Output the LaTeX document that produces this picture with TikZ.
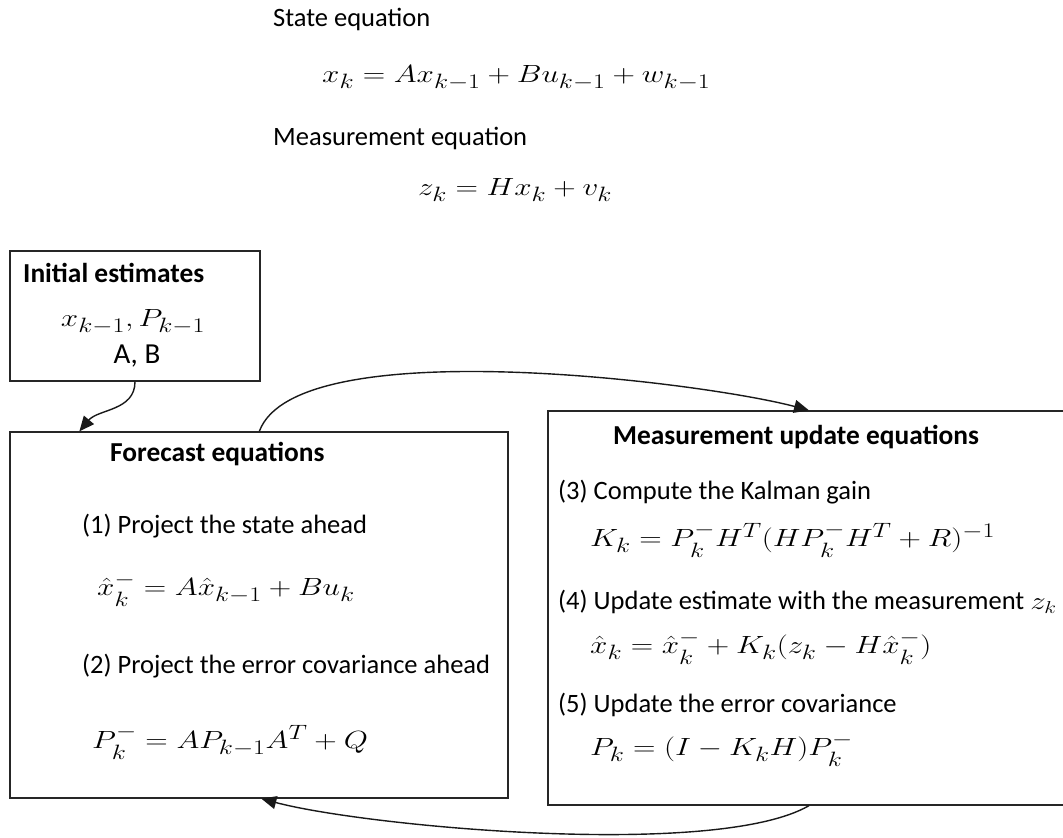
\documentclass[tikz,border=0pt]{standalone}
\usepackage{amsmath,amssymb}
\usepackage{graphicx}
\usepackage{fontspec}
\setmainfont{Carlito}
\usetikzlibrary{positioning,arrows.meta,calc}
\usepackage{xcolor}
\newcommand{\wmath}[1]{\scalebox{1.25}[1]{$#1$}}

\begin{document}
\begin{tikzpicture}[x=1pt,y=-1pt,>={Triangle[length=15pt,width=13pt]},
  txt/.style={anchor=west,inner sep=0pt,font=\fontsize{26.5}{30}\selectfont},
  head/.style={txt,font=\fontsize{27.4}{31}\selectfont\bfseries},
  eq/.style={anchor=west,inner sep=0pt,font=\fontsize{31}{36}\selectfont},
  box/.style={draw=black!85,line width=1.3pt,inner sep=0pt},
  link/.style={->,line width=1.4pt,black!90}]
\useasboundingbox (0,0) rectangle (1063,838);
% model
\node[txt] (st) at (273,19) {State equation};
\node[eq] (steq) at (322,78) {\wmath{x_k = Ax_{k-1} + Bu_{k-1} + w_{k-1}}};
\node[txt] (ms) at (273,138) {Measurement equation};
\node[eq] (mseq) at (418,190) {\wmath{z_k = Hx_k + v_k}};
% boxes
\node[box,minimum width=250pt,minimum height=130pt] (ini) at (135,316) {};
\node[box,minimum width=498pt,minimum height=366pt] (fc) at (259,615) {};
\node[box,minimum width=522pt,minimum height=394pt] (mu) at (809,608) {};
% initial estimates
\node[head] (initl) at (23,273) {Initial estimates};
\node[eq,anchor=center] (inix) at (133,322) {\wmath{x_{k-1}, P_{k-1}}};
\node[txt,anchor=center,font=\fontsize{29}{33}\selectfont] (iniab) at (137,356) {A, B};
% forecast
\node[head] (fcl) at (110,454) {Forecast equations};
\node[txt] (p1) at (82,526) {(1) Project the state ahead};
\node[eq] (e1) at (97,590) {\wmath{\hat{x}_k^- = A\hat{x}_{k-1} + Bu_k}};
\node[txt] (p2) at (82,666) {(2) Project the error covariance ahead};
\node[eq] (e2) at (92,742) {\wmath{P_k^- = AP_{k-1}A^T + Q}};
% measurement update
\node[head] (mul) at (613,437) {Measurement update equations};
\node[txt] (p3) at (558,492) {(3) Compute the Kalman gain};
\node[eq] (e3) at (590,540) {\wmath{K_k = P_k^- H^T (HP_k^- H^T + R)^{-1}}};
\node[txt] (p4) at (558,602) {(4) Update estimate with the measurement \wmath{z_k}};
\node[eq] (e4) at (590,648) {\wmath{\hat{x}_k = \hat{x}_k^- + K_k(z_k - H\hat{x}_k^-)}};
\node[txt] (p5) at (558,705) {(5) Update the error covariance};
\node[eq] (e5) at (590,750) {\wmath{P_k = (I - K_kH)P_k^-}};
% cycle
\draw[link] (ini.south) to[out=-90,in=50] ([xshift=70pt]fc.north west);
\draw[link] ([xshift=250pt]fc.north west) to[out=70,in=165,looseness=0.5] (mu.north);
\draw[link] (mu.south) to[out=-150,in=-15,looseness=0.5] ([xshift=252pt]fc.south west);
\end{tikzpicture}
\end{document}
